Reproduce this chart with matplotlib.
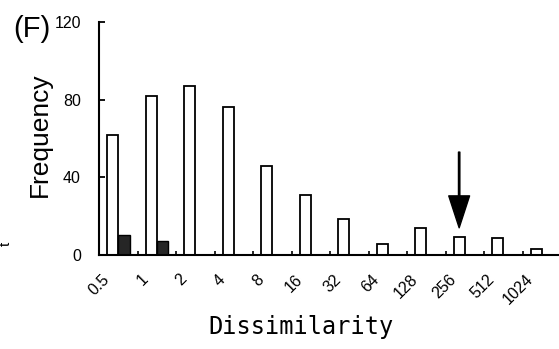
import matplotlib
matplotlib.use("Agg")
import matplotlib.pyplot as plt
from matplotlib.ticker import FixedLocator

categories = ["0.5", "1", "2", "4", "8", "16", "32", "64", "128", "256", "512", "1024"]
white_values = [62, 82, 87, 76, 46, 31, 18.5, 5.5, 14, 9.5, 9, 3]
black_values = [10.5, 7, 0, 0, 0, 0, 0, 0, 0, 0, 0, 0]
y_ticks = [0, 40, 80, 120]
arrow_category = "256"
arrow_top, arrow_tip = 53, 14

W, H = 559, 349
fig = plt.figure(figsize=(W / 100, H / 100), dpi=100)
ax = fig.add_axes([99 / W, (H - 255) / H, 462 / W, 233 / H])

narrow = ["Liberation Sans", "DejaVu Sans"]

n = len(categories)
bw = 0.29
off = 0.21
xs = list(range(n))
ax.bar([x + off for x in xs], white_values, width=bw, align="edge",
       facecolor="white", edgecolor="black", linewidth=1.3, zorder=2)
bx = [x + off + bw for x, v in zip(xs, black_values) if v > 0]
bv = [v for v in black_values if v > 0]
ax.bar(bx, bv, width=0.3, align="edge",
       facecolor="#262626", edgecolor="black", linewidth=1.0, zorder=2)

ax.set_xlim(0, n)
ax.set_ylim(0, 120)
for s in ["top", "right"]:
    ax.spines[s].set_visible(False)
for s in ["left", "bottom"]:
    ax.spines[s].set_linewidth(1.5)

ax.set_yticks(y_ticks)
ax.set_yticklabels([str(t) for t in y_ticks], family=narrow, fontsize=11.5)
ax.tick_params(axis="y", direction="in", length=4.5, width=1.3, pad=13)

centers = [x + off + bw / 2 for x in xs]
ax.xaxis.set_major_locator(FixedLocator(centers))
ax.set_xticklabels(categories, rotation=45, ha="right", va="top",
                   family=narrow, fontsize=11.5)
ax.tick_params(axis="x", which="major", length=0, pad=12)
ax.xaxis.set_minor_locator(FixedLocator(list(range(1, n))))
ax.tick_params(axis="x", which="minor", direction="in", length=3, width=1.2)

ax.set_ylabel("Frequency", family=["Liberation Sans", "DejaVu Sans"], fontsize=19)
ax.yaxis.set_label_coords(40 / W, (H - 135) / H, transform=fig.transFigure)
ax.yaxis.label.set_va("center")
ax.set_xlabel("Dissimilarity", family=["DejaVu Sans Mono"], fontsize=17)
ax.xaxis.set_label_coords(301 / W, (H - 327) / H, transform=fig.transFigure)
ax.xaxis.label.set_va("center")

ai = categories.index(arrow_category)
ax.annotate("", xy=(centers[ai], arrow_tip), xytext=(centers[ai], arrow_top),
            arrowprops=dict(facecolor="black", edgecolor="black", width=1.0,
                            headwidth=15, headlength=23, shrink=0), zorder=3)

fig.text(13 / W, (H - 29) / H, "(F)", family=["Liberation Sans", "DejaVu Sans"],
         fontsize=21, ha="left", va="center")
fig.text(6 / W, (H - 244) / H, "t", family=["Liberation Sans", "DejaVu Sans"],
         fontsize=11, rotation=90, ha="center", va="center")

fig.savefig("out.png", dpi=100)
